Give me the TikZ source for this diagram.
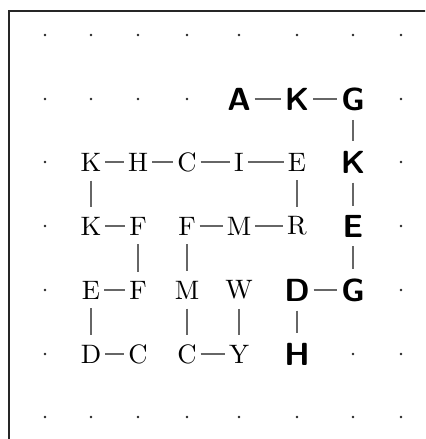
\documentclass[tikz,border=0pt]{standalone}
\usetikzlibrary{positioning}
\begin{document}
\begin{tikzpicture}[x=0.375pt,y=-0.375pt,
  every node/.style={font=\normalsize},
  ltr/.style={inner xsep=1.3pt},
  bld/.style={inner xsep=1.3pt,font=\large\sffamily\bfseries},
  spot/.style={circle,fill=black!85,inner sep=0pt,minimum size=1.1pt},
  lnk/.style={draw=black!60,line width=0.45pt}
]
\useasboundingbox (0,0) rectangle (425,439);
\clip (0,0) rectangle (425,439);
% frame
\draw[line width=0.9pt,black!85] (9,470) |- (460,11);
% Dots
\foreach \row/\y/\cols in {
  1/35/{45,91,138,187,239,297,353,401},
  2/99/{45,91,138,187,401},
  3/162/{45,401}, 4/226/{45,401}, 5/290/{45,401},
  6/354/{45,353,401},
  7/417/{45,91,138,187,239,297,353,401}}{
  \foreach \x in \cols
    \node[spot] (d\row-\x) at (\x,\y) {};
}
% Row 2
\foreach \x/\lbl/\n in {239/A/5, 297/K/6, 353/G/7}
  \node[bld] (n2-\n) at (\x,99) {\lbl};
% Row 3
\foreach \x/\lbl/\n in {91/K/2, 138/H/3, 187/C/4, 239/I/5, 297/E/6}
  \node[ltr] (n3-\n) at (\x,162) {\lbl};
\node[bld] (n3-7) at (353,162) {K};
% Row 4
\foreach \x/\lbl/\n in {91/K/2, 138/F/3, 187/F/4, 239/M/5, 297/R/6}
  \node[ltr] (n4-\n) at (\x,226) {\lbl};
\node[bld] (n4-7) at (353,226) {E};
% Row 5
\foreach \x/\lbl/\n in {91/E/2, 138/F/3, 187/M/4, 239/W/5}
  \node[ltr] (n5-\n) at (\x,290) {\lbl};
\node[bld] (n5-6) at (297,290) {D};
\node[bld] (n5-7) at (353,290) {G};
% Row 6
\foreach \x/\lbl/\n in {91/D/2, 138/C/3, 187/C/4, 239/Y/5}
  \node[ltr] (n6-\n) at (\x,354) {\lbl};
\node[bld] (n6-6) at (297,354) {H};
% Links
\foreach \a/\b in {n2-5/n2-6, n2-6/n2-7, n2-7/n3-7, n3-7/n4-7, n4-7/n5-7,
  n5-6/n5-7, n5-6/n6-6,
  n3-2/n3-3, n3-3/n3-4, n3-4/n3-5, n3-5/n3-6, n3-2/n4-2, n3-6/n4-6,
  n4-2/n4-3, n4-4/n4-5, n4-5/n4-6, n4-3/n5-3, n4-4/n5-4,
  n5-2/n5-3, n5-2/n6-2, n5-4/n6-4, n5-5/n6-5,
  n6-2/n6-3, n6-4/n6-5}
  \draw[lnk] (\a) -- (\b);
\end{tikzpicture}
\end{document}
